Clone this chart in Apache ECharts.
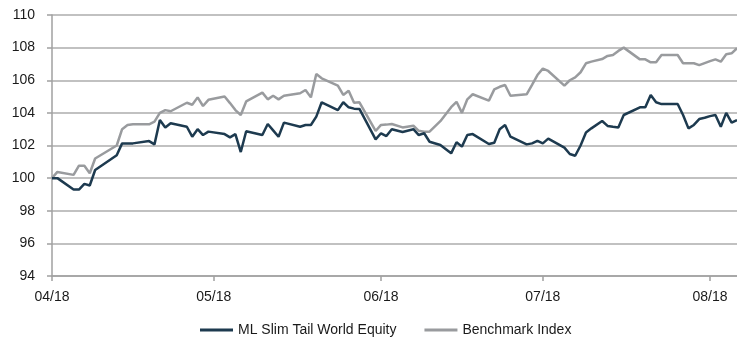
<!DOCTYPE html>
<html>
<head>
<meta charset="utf-8">
<style>
  html, body { margin: 0; padding: 0; background: #fff; }
  #chart { width: 737px; height: 342px; }
</style>
<script src="https://cdn.jsdelivr.net/npm/echarts@6/dist/echarts.min.js"></script>
</head>
<body>
<div id="chart"></div>
<script>
// dates (x position of each vertex)
const dates = [
  '2018-04-01', '2018-04-02', '2018-04-05', '2018-04-06', '2018-04-07', '2018-04-08', '2018-04-09',
  '2018-04-13', '2018-04-14', '2018-04-15', '2018-04-16', '2018-04-19', '2018-04-20', '2018-04-21',
  '2018-04-22', '2018-04-23', '2018-04-26', '2018-04-27', '2018-04-28', '2018-04-29', '2018-04-30',
  '2018-05-03', '2018-05-04', '2018-05-05', '2018-05-06', '2018-05-07', '2018-05-10', '2018-05-11',
  '2018-05-12', '2018-05-13', '2018-05-14', '2018-05-17', '2018-05-18', '2018-05-19', '2018-05-20',
  '2018-05-21', '2018-05-24', '2018-05-25', '2018-05-26', '2018-05-27', '2018-05-28', '2018-05-31',
  '2018-06-01', '2018-06-02', '2018-06-03', '2018-06-05', '2018-06-07', '2018-06-08', '2018-06-09',
  '2018-06-10', '2018-06-12', '2018-06-14', '2018-06-15', '2018-06-16', '2018-06-17', '2018-06-18',
  '2018-06-21', '2018-06-22', '2018-06-23', '2018-06-24', '2018-06-25', '2018-06-28', '2018-06-29',
  '2018-06-30', '2018-07-01', '2018-07-02', '2018-07-05', '2018-07-06', '2018-07-07', '2018-07-08',
  '2018-07-09', '2018-07-10', '2018-07-12', '2018-07-13', '2018-07-14', '2018-07-15', '2018-07-16',
  '2018-07-19', '2018-07-20', '2018-07-21', '2018-07-22', '2018-07-23', '2018-07-26', '2018-07-27',
  '2018-07-28', '2018-07-29', '2018-07-30', '2018-07-31', '2018-08-01', '2018-08-02', '2018-08-03',
  '2018-08-04', '2018-08-05', '2018-08-06'
]

const slimTail = [
  100.0, 100.0, 99.3, 99.3, 99.65, 99.55, 100.5,
  101.4, 102.13, 102.13, 102.13, 102.27, 102.07, 103.56,
  103.1, 103.36, 103.15, 102.54, 103.0, 102.64, 102.85,
  102.7, 102.5, 102.7, 101.6, 102.87, 102.64, 103.32,
  102.93, 102.54, 103.4, 103.15, 103.26, 103.26, 103.77,
  104.65, 104.17, 104.65, 104.34, 104.26, 104.24, 102.38,
  102.75, 102.58, 103.0, 102.83, 103.0, 102.64, 102.75,
  102.23, 102.03, 101.52, 102.2, 101.93, 102.64, 102.7,
  102.09, 102.17, 103.0, 103.26, 102.54, 102.07, 102.13,
  102.29, 102.13, 102.42, 101.87, 101.48, 101.37, 102.0,
  102.8, 103.05, 103.5, 103.2, 103.15, 103.11, 103.87,
  104.34, 104.34, 105.1, 104.65, 104.54, 104.54, 103.87,
  103.05, 103.26, 103.62, 103.7, 103.8, 103.87, 103.15,
  104.0, 103.4, 103.56
]

const benchmark = [
  100.0, 100.38, 100.2, 100.76, 100.76, 100.3, 101.2,
  102.0, 103.0, 103.25, 103.3, 103.3, 103.46, 104.0,
  104.17, 104.1, 104.62, 104.5, 104.95, 104.42, 104.8,
  105.0, 104.6, 104.17, 103.87, 104.7, 105.24, 104.83,
  105.05, 104.83, 105.05, 105.2, 105.4, 104.95, 106.38,
  106.12, 105.67, 105.1, 105.36, 104.62, 104.65, 102.89,
  103.26, 103.28, 103.32, 103.11, 103.21, 102.9, 102.85,
  102.85, 103.49, 104.35, 104.68, 104.0, 104.83, 105.14,
  104.75, 105.44, 105.6, 105.71, 105.05, 105.14, 105.72,
  106.32, 106.71, 106.57, 105.67, 106.0, 106.18, 106.49,
  107.04, 107.14, 107.3, 107.49, 107.55, 107.8, 108.0,
  107.28, 107.28, 107.1, 107.1, 107.55, 107.55, 107.04,
  107.04, 107.04, 106.93, 107.05, 107.17, 107.28, 107.14,
  107.6, 107.65, 107.96
]

const monthTicks = ['2018-04-01', '2018-05-01', '2018-06-01', '2018-07-01', '2018-08-01']

const fontFamily = '"Liberation Sans", Arial, sans-serif'
const textColor = '#1a1a1a'
const axisColor = '#a0a0a0'

const chart = echarts.init(document.getElementById('chart'), null, { renderer: 'canvas' })

chart.setOption({
  backgroundColor: '#ffffff',
  animation: false,
  textStyle: { fontFamily: fontFamily },
  grid: {
    left: 52,
    right: 0,
    top: 15,
    bottom: 66
  },
  legend: {
    left: 195,
    top: 318,
    itemWidth: 33,
    itemHeight: 3,
    itemGap: 28,
    icon: 'rect',
    textStyle: {
      fontFamily: fontFamily,
      fontSize: 14,
      color: textColor,
      padding: [0, 0, 0, 0]
    },
    data: ['ML Slim Tail World Equity', 'Benchmark Index']
  },
  xAxis: {
    type: 'time',
    min: '2018-04-01',
    max: '2018-08-06',
    axisLine: {
      show: true,
      onZero: false,
      lineStyle: { color: axisColor, width: 1.5 }
    },
    axisTick: {
      show: true,
      length: 5,
      customValues: monthTicks,
      lineStyle: { color: axisColor, width: 1.5 }
    },
    axisLabel: {
      customValues: monthTicks,
      formatter: '{MM}/{yy}',
      margin: 14,
      fontFamily: fontFamily,
      fontSize: 14,
      color: textColor,
      hideOverlap: false
    },
    splitLine: { show: false }
  },
  yAxis: {
    type: 'value',
    min: 94,
    max: 110,
    interval: 2,
    axisLine: {
      show: true,
      lineStyle: { color: axisColor, width: 1.5 }
    },
    axisTick: {
      show: true,
      length: 5,
      lineStyle: { color: axisColor, width: 1.5 }
    },
    axisLabel: {
      margin: 17,
      fontFamily: fontFamily,
      fontSize: 14,
      color: textColor
    },
    splitLine: {
      show: true,
      lineStyle: { color: '#acacac', width: 1.5 }
    }
  },
  series: [{
    name: 'ML Slim Tail World Equity',
    type: 'line',
    data: dates.map((d, i) => [d, slimTail[i]]),
    showSymbol: false,
    symbol: 'none',
    z: 3,
    itemStyle: { color: '#1d3a4f' },
    lineStyle: { color: '#1d3a4f', width: 2.5 }
  }, {
    name: 'Benchmark Index',
    type: 'line',
    data: dates.map((d, i) => [d, benchmark[i]]),
    showSymbol: false,
    symbol: 'none',
    z: 2,
    itemStyle: { color: '#999b9e' },
    lineStyle: { color: '#999b9e', width: 2.5 }
  }]
})
</script>
</body>
</html>
